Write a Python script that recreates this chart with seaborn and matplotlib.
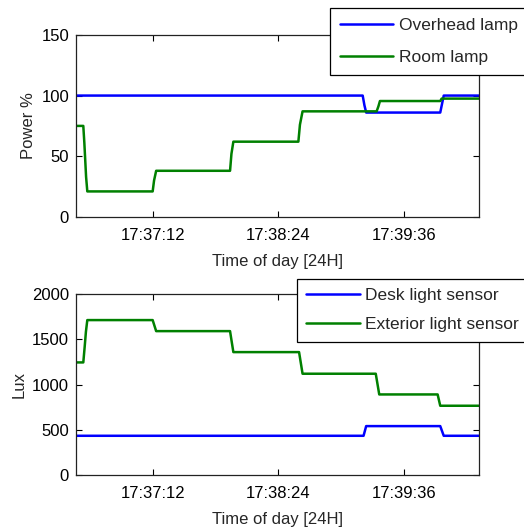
import numpy as np
import pandas as pd
import matplotlib
matplotlib.use("Agg")
import matplotlib.pyplot as plt
import matplotlib.dates as mdates
import seaborn as sns

# Start of the recording and seconds elapsed for each reading
start_time = "2013-01-01 17:36:28"
end_offset = 231.2

# Top panel: lamp power (%)
overhead_t = [0, 164.5, 165.5, 166.5, 209, 210, 211, 231.2]
overhead_v = [100, 100, 92, 86, 86, 93, 100, 100]

room_t = [0, 4.2, 4.8, 5.8, 6.5, 44, 44.8, 46, 88.4, 89.2, 90.3,
          127.6, 128.5, 130, 172.5, 173.5, 174.4, 209, 209.8, 231.2]
room_v = [75, 75, 61, 33, 21, 21, 30, 38, 38, 52, 62,
          62, 76, 87, 87, 91, 95.5, 95.5, 97.5, 97.5]

# Bottom panel: light sensors (lux)
desk_t = [0, 165, 166.5, 209, 211, 231.2]
desk_v = [434, 434, 541, 541, 434, 434]

exterior_t = [0, 4.2, 5, 5.7, 6.5, 44, 46, 88.4, 89.3, 90.3, 128, 130,
              172, 174, 207.5, 209, 231.2]
exterior_v = [1245, 1245, 1420, 1584, 1713, 1713, 1591, 1591, 1480, 1359,
              1359, 1120, 1120, 891, 891, 766, 766]

tick_times = ["17:37:12", "17:38:24", "17:39:36"]


def to_times(offsets):
    return pd.Timestamp(start_time) + pd.to_timedelta(offsets, unit="s")


sns.set_style("ticks")
plt.rcParams["font.family"] = ["Liberation Sans", "DejaVu Sans"]
plt.rcParams["font.size"] = 12

BLUE = (0, 0, 1)
GREEN = (0, 0.5, 0)

fig = plt.figure(figsize=(5.24, 5.29), dpi=100)
ax1 = fig.add_axes([0.145, 0.590, 0.769, 0.344])
ax2 = fig.add_axes([0.145, 0.102, 0.769, 0.342])


def draw_panel(ax, series, ylim, yticks, ylabel, legend_pos, spacing, bpad):
    for t, v, color, label in series:
        df = pd.DataFrame({"time": to_times(t), "value": v})
        sns.lineplot(data=df, x="time", y="value", color=color, lw=1.8,
                     label=label, sort=False, estimator=None, ax=ax)
    ax.set_xlim(to_times([0])[0], to_times([end_offset])[0])
    ax.set_ylim(*ylim)
    ax.set_yticks(yticks)
    ax.set_xticks([pd.Timestamp("2013-01-01 " + s) for s in tick_times])
    ax.xaxis.set_major_formatter(mdates.DateFormatter("%H:%M:%S"))
    ax.set_xlabel("Time of day [24H]", fontsize=12, labelpad=8)
    ax.set_ylabel(ylabel, fontsize=12, labelpad=4)
    ax.tick_params(direction="in", length=4, width=0.8, top=True, right=True,
                   labelsize=12, colors="black")
    ax.tick_params(axis="x", pad=8)
    ax.tick_params(axis="y", pad=5)
    for sp in ax.spines.values():
        sp.set_visible(True)
        sp.set_color("#222222")
        sp.set_linewidth(0.9)
    leg = ax.legend(loc="upper left", bbox_to_anchor=legend_pos,
                    bbox_transform=fig.transFigure, borderaxespad=0,
                    frameon=True, fancybox=False, framealpha=1,
                    edgecolor="black", handlelength=3.1, handletextpad=0.3,
                    labelspacing=spacing, borderpad=bpad, fontsize=12.5)
    leg.get_frame().set_linewidth(0.9)


draw_panel(ax1,
           [(overhead_t, overhead_v, BLUE, "Overhead lamp"),
            (room_t, room_v, GREEN, "Room lamp")],
           (0, 150), [0, 50, 100, 150], "Power %", (0.630, 0.985), 1.0, 0.55)

draw_panel(ax2,
           [(desk_t, desk_v, BLUE, "Desk light sensor"),
            (exterior_t, exterior_v, GREEN, "Exterior light sensor")],
           (0, 2000), [0, 500, 1000, 1500, 2000], "Lux", (0.566, 0.473),
           0.78, 0.55)

fig.savefig("out.png", dpi=100)
